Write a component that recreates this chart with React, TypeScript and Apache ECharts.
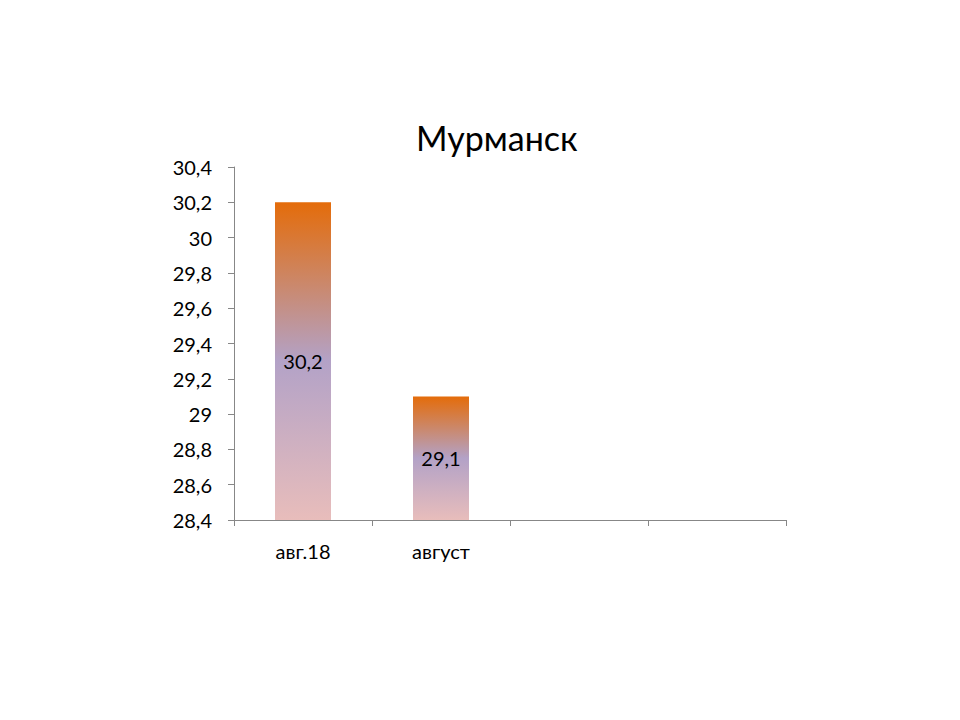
import { useEffect, useRef } from "react";
import * as echarts from "echarts";

const title = "Мурманск";
const categories = ["авг.18", "август", "", ""];
const values: (number | string)[] = [30.2, 29.1, "-", "-"];
const yMin = 28.4;
const yMax = 30.4;
const yStep = 0.2;

const fmt = (v: number) => String(Number(v.toFixed(1))).replace(".", ",");

export default function App() {
  const chartRef = useRef<HTMLDivElement>(null);

  useEffect(() => {
    document.body.style.margin = "0";
    if (!chartRef.current) return;
    const chart = echarts.init(chartRef.current, null, { renderer: "svg" });

    const barFill = new echarts.graphic.LinearGradient(0, 0, 0, 1, [
      { offset: 0, color: "#E46C0A" },
      { offset: 0.5, color: "#B3A2C7" },
      { offset: 1, color: "#E8BDBB" }
    ]);

    const option: echarts.EChartsOption = {
      animation: false,
      backgroundColor: "#ffffff",
      textStyle: { fontFamily: "Lato, 'Open Sans', sans-serif" },
      title: {
        text: title,
        left: 411,
        top: 115,
        textStyle: { fontSize: 34, fontWeight: "normal", color: "#000000" }
      },
      grid: { left: 234, right: 174, top: 167, bottom: 200, containLabel: false },
      xAxis: {
        type: "category",
        data: categories,
        axisLine: { lineStyle: { color: "#878787", width: 1 } },
        axisTick: { show: true, length: 6, lineStyle: { color: "#878787" } },
        axisLabel: { color: "#000000", fontSize: 20, margin: 21 }
      },
      yAxis: {
        type: "value",
        min: yMin,
        max: yMax,
        interval: yStep,
        splitLine: { show: false },
        axisLine: { show: true, lineStyle: { color: "#878787", width: 1 } },
        axisTick: { show: true, length: 6, lineStyle: { color: "#878787" } },
        axisLabel: { color: "#000000", fontSize: 20, margin: 22, formatter: (v: number) => fmt(v) }
      },
      series: [
        {
          type: "bar",
          data: values,
          barWidth: 56,
          itemStyle: { color: barFill },
          label: {
            show: true,
            position: "inside",
            color: "#000000",
            fontSize: 20,
            formatter: (p: any) => fmt(p.value)
          }
        }
      ]
    };

    chart.setOption(option);

    return () => {
      chart.dispose();
    };
  }, []);

  return <div ref={chartRef} style={{ width: "960px", height: "720px" }} />;
}
